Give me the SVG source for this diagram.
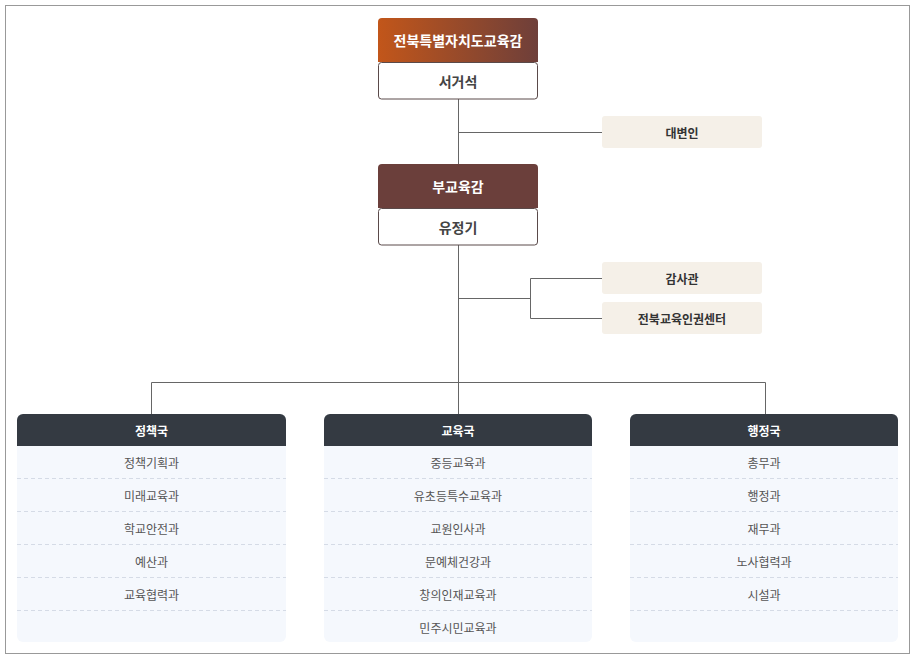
<svg xmlns="http://www.w3.org/2000/svg" width="915" height="659" viewBox="0 0 915 659">
<style>
text{font-family:"Noto Sans CJK KR","Noto Sans",sans-serif;text-anchor:middle;dominant-baseline:central}
.ln{stroke:#666;stroke-width:1;fill:none}
.wb{fill:#fff;stroke:#5a4a4a;stroke-width:1}
.nm{font-size:14px;font-weight:bold;fill:#444}
.hd{font-size:14px;font-weight:bold;fill:#fff}
.side{fill:#f5f0e8}
.st{font-size:12px;font-weight:bold;fill:#333}
.col{fill:#f5f8fd}
.ch{fill:#343a42}
.ct{font-size:12px;font-weight:bold;fill:#fff}
.it{font-size:12px;fill:#555}
.dl{stroke:#d5dbe6;stroke-dasharray:4 3;stroke-width:1}
</style>
<defs>
<linearGradient id="g1" x1="0" x2="1"><stop offset="0" stop-color="#c2561a"/><stop offset="1" stop-color="#6e3f3a"/></linearGradient>
</defs>
<rect x="0" y="0" width="915" height="659" fill="#fff"/>
<rect x="5.5" y="5.5" width="904" height="648" fill="#fff" stroke="#999" stroke-width="1"/>
<g id="connectors">
<path class="ln" d="M458.5 99V382M458.5 132.5H602M458.5 298.5H530.5M530.5 278.5V318.5M530.5 278.5H602M530.5 318.5H602M151.5 414V382.5H765.5V414M458.5 382V414"/>
</g>
<g id="n-superintendent">
<path d="M378 22a4 4 0 0 1 4-4h152a4 4 0 0 1 4 4v40h-160z" fill="url(#g1)"/>
<text class="hd" x="458" y="40">전북특별자치도교육감</text>
<rect class="wb" x="378.5" y="62.5" width="159" height="36.5" rx="3"/>
<text class="nm" x="458" y="81">서거석</text>
</g>
<g id="n-spokesman"><rect class="side" x="602" y="116" width="160" height="32" rx="3"/><text class="st" x="682" y="132">대변인</text></g>
<g id="n-deputy">
<path d="M378 168a4 4 0 0 1 4-4h152a4 4 0 0 1 4 4v40h-160z" fill="#6b3f3b"/>
<text class="hd" x="458" y="186">부교육감</text>
<rect class="wb" x="378.5" y="208.5" width="159" height="36.5" rx="3"/>
<text class="nm" x="458" y="227">유정기</text>
</g>
<g id="n-audit"><rect class="side" x="602" y="262" width="160" height="32" rx="3"/><text class="st" x="682" y="278">감사관</text></g>
<g id="n-rights"><rect class="side" x="602" y="302" width="160" height="32" rx="3"/><text class="st" x="682" y="318">전북교육인권센터</text></g>
<g id="n-policy">
<rect class="col" x="17" y="414" width="269" height="228" rx="6"/>
<path class="ch" d="M17 446V420a6 6 0 0 1 6-6h257a6 6 0 0 1 6 6v26z"/>
<text class="ct" x="151.5" y="430">정책국</text>
<path class="dl" d="M17 478.5H286M17 511.5H286M17 544.5H286M17 577.5H286M17 610.5H286"/>
<text class="it" x="151.5" y="462">정책기획과</text><text class="it" x="151.5" y="495">미래교육과</text><text class="it" x="151.5" y="528">학교안전과</text><text class="it" x="151.5" y="561">예산과</text><text class="it" x="151.5" y="594">교육협력과</text>
</g>
<g id="n-education">
<rect class="col" x="324" y="414" width="268" height="228" rx="6"/>
<path class="ch" d="M324 446V420a6 6 0 0 1 6-6h256a6 6 0 0 1 6 6v26z"/>
<text class="ct" x="458" y="430">교육국</text>
<path class="dl" d="M324 478.5H592M324 511.5H592M324 544.5H592M324 577.5H592M324 610.5H592"/>
<text class="it" x="458" y="462">중등교육과</text><text class="it" x="458" y="495">유초등특수교육과</text><text class="it" x="458" y="528">교원인사과</text><text class="it" x="458" y="561">문예체건강과</text><text class="it" x="458" y="594">창의인재교육과</text><text class="it" x="458" y="627">민주시민교육과</text>
</g>
<g id="n-admin">
<rect class="col" x="630" y="414" width="268" height="228" rx="6"/>
<path class="ch" d="M630 446V420a6 6 0 0 1 6-6h256a6 6 0 0 1 6 6v26z"/>
<text class="ct" x="764" y="430">행정국</text>
<path class="dl" d="M630 478.5H898M630 511.5H898M630 544.5H898M630 577.5H898M630 610.5H898"/>
<text class="it" x="764" y="462">총무과</text><text class="it" x="764" y="495">행정과</text><text class="it" x="764" y="528">재무과</text><text class="it" x="764" y="561">노사협력과</text><text class="it" x="764" y="594">시설과</text>
</g>
</svg>
